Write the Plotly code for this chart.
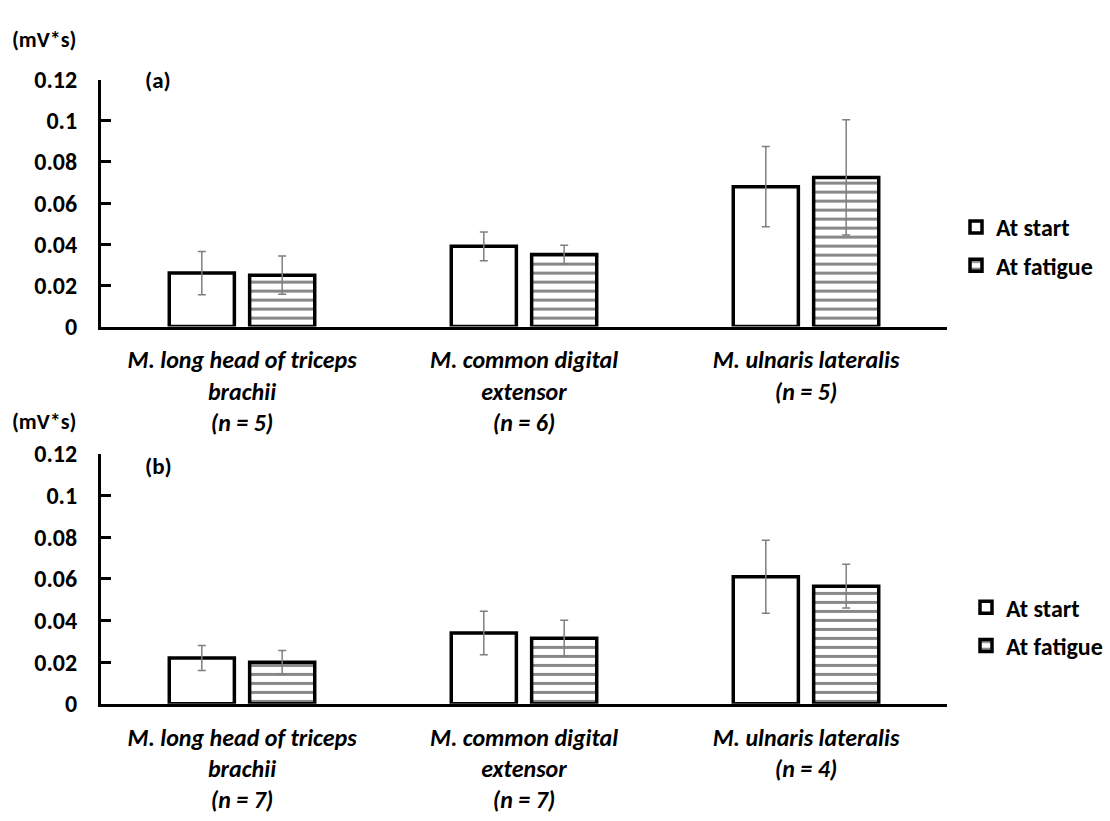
import plotly.graph_objects as go

# Category labels for each panel
muscles_a = [
    "M. long head of triceps<br>brachii<br>(n = 5)",
    "M. common digital<br>extensor<br>(n = 6)",
    "M. ulnaris lateralis<br>(n = 5)",
]
muscles_b = [
    "M. long head of triceps<br>brachii<br>(n = 7)",
    "M. common digital<br>extensor<br>(n = 7)",
    "M. ulnaris lateralis<br>(n = 4)",
]

# Panel (a) means and SD (mV*s)
start_a = [0.026, 0.039, 0.068]
start_a_sd = [0.0105, 0.007, 0.0195]
fatigue_a = [0.025, 0.035, 0.0725]
fatigue_a_sd = [0.0093, 0.0045, 0.028]

# Panel (b) means and SD (mV*s)
start_b = [0.022, 0.034, 0.061]
start_b_sd = [0.006, 0.0105, 0.0175]
fatigue_b = [0.020, 0.0315, 0.0565]
fatigue_b_sd = [0.0056, 0.0086, 0.0105]

series_names = ["At start", "At fatigue"]
y_ticks = [0, 0.02, 0.04, 0.06, 0.08, 0.1, 0.12]
y_ticktext = ["0", "0.02", "0.04", "0.06", "0.08", "0.1", "0.12"]

FONT = "Carlito, Calibri, Lato, sans-serif"
W, H = 1110, 821

err_style = dict(type="data", color="#7f7f7f", thickness=1.5, width=4)
outline = dict(color="black", width=3.5)
stripes = dict(shape="-", fgcolor="#111111", bgcolor="white", size=9, solidity=0.33)

fig = go.Figure()


def add_panel(cats, s, s_sd, f, f_sd, xa, ya, leg, group_suffix):
    fig.add_trace(go.Bar(
        x=cats, y=s, name=series_names[0], xaxis=xa, yaxis=ya,
        marker=dict(color="white", line=outline),
        error_y=dict(array=s_sd, **err_style),
        legend=leg, legendgroup="s" + group_suffix,
    ))
    fig.add_trace(go.Bar(
        x=cats, y=f, name=series_names[1], xaxis=xa, yaxis=ya,
        marker=dict(color="white", line=outline, pattern=stripes),
        error_y=dict(array=f_sd, **err_style),
        legend=leg, legendgroup="f" + group_suffix,
    ))


add_panel(muscles_a, start_a, start_a_sd, fatigue_a, fatigue_a_sd, "x", "y", "legend", "a")
add_panel(muscles_b, start_b, start_b_sd, fatigue_b, fatigue_b_sd, "x2", "y2", "legend2", "b")


def px_x(v):
    return v / W


def px_y(v):
    return 1 - v / H


x_dom = [px_x(101), px_x(947)]
xaxis_common = dict(
    domain=x_dom, showline=True, linewidth=3, linecolor="black", ticks="",
    showgrid=False, zeroline=False,
    tickfont=dict(family=FONT, size=24, color="black", weight="bold", style="italic"),
    ticklabelstandoff=10,
)
yaxis_common = dict(
    range=[0, 0.12], tickvals=y_ticks, ticktext=y_ticktext,
    showline=True, linewidth=3, linecolor="black",
    ticks="inside", ticklen=10, tickwidth=3, tickcolor="black",
    showgrid=False, zeroline=False,
    tickfont=dict(family=FONT, size=24, color="black", weight="bold"),
    ticklabelstandoff=16,
)

legend_common = dict(
    xanchor="left", yanchor="middle", traceorder="grouped", tracegroupgap=4,
    font=dict(family=FONT, size=24, color="black", weight="bold"),
    bgcolor="rgba(0,0,0,0)", itemwidth=30,
)

fig.update_layout(
    width=W, height=H,
    margin=dict(l=0, r=0, t=0, b=0),
    paper_bgcolor="white", plot_bgcolor="white",
    barmode="group", bargap=0.43, bargroupgap=0.19,
    xaxis=dict(anchor="y", **xaxis_common),
    yaxis=dict(anchor="x", domain=[px_y(323), px_y(67)], **yaxis_common),
    xaxis2=dict(anchor="y2", **xaxis_common),
    yaxis2=dict(anchor="x2", domain=[px_y(714), px_y(455)], **yaxis_common),
    legend=dict(x=px_x(956), y=px_y(240), **legend_common),
    legend2=dict(x=px_x(966), y=px_y(634), **legend_common),
)

for text, x, y, size in [("(mV*s)", 10, 25, 22), ("(a)", 143, 67, 23),
                         ("(mV*s)", 10, 421, 22), ("(b)", 143, 468, 23)]:
    fig.add_annotation(
        text=text, xref="paper", yref="paper", x=px_x(x), y=px_y(y),
        xanchor="left", yanchor="middle", showarrow=False,
        font=dict(family=FONT, size=size, color="black", weight="bold"),
    )

fig.write_html("out.html")
